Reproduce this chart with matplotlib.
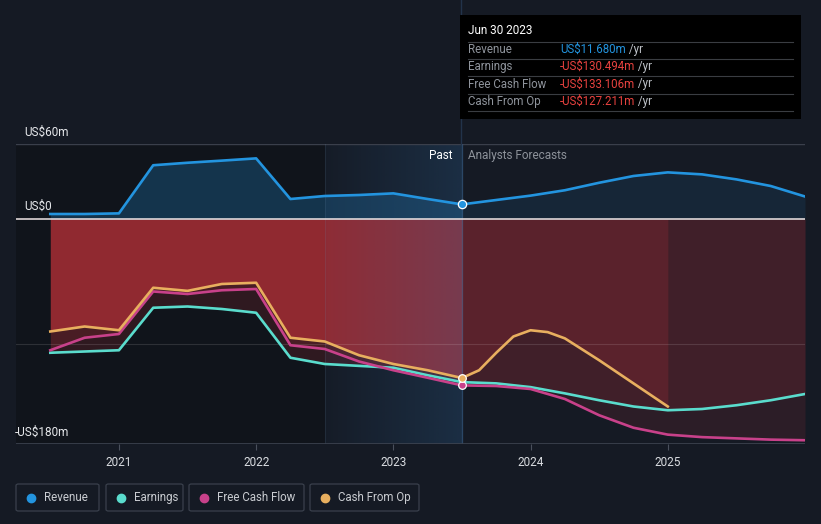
import numpy as np
import matplotlib.pyplot as plt
from matplotlib.patches import FancyBboxPatch
from matplotlib.lines import Line2D

plt.rcParams['font.family'] = ['Roboto', 'DejaVu Sans']

# ---- data (US$ m, decimal years) ----
past_x = [2020.5, 2020.75, 2021.0, 2021.25, 2021.5, 2021.75, 2022.0, 2022.25,
          2022.5, 2022.75, 2023.0, 2023.25, 2023.5]
revenue_past = [4, 4, 4.5, 43, 45, 46.7, 48.5, 16, 18.4, 19.2, 20.5, 16, 11.68]
earnings_past = [-107, -106, -105, -71, -70, -72, -75, -111, -116, -117.5, -119, -125, -130.494]
fcf_past = [-105, -95, -92, -58, -60, -57, -56, -101, -104, -114, -121, -127, -133.106]
cfo_past = [-90, -86, -89, -55, -57.5, -52, -51, -95, -98, -109, -116, -121, -127.211]

fc_x = [2023.5, 2023.75, 2024.0, 2024.25, 2024.5, 2024.75, 2025.0, 2025.25,
        2025.5, 2025.75, 2026.0]
revenue_fc = [11.68, 15.2, 18.7, 23, 29, 34.4, 37.3, 35.7, 31.7, 26.4, 18]
earnings_fc = [-130.494, -131.5, -134.5, -139.5, -145, -150, -153, -152, -149, -145, -140]
fcf_fc = [-133.106, -133.6, -136, -144, -157, -167, -172.5, -174.5, -175.5, -176.5, -177]
cfo_fc_x = [2023.5, 2023.625, 2023.75, 2023.875, 2024.0, 2024.125, 2024.25, 2024.5,
            2024.75, 2025.0]
cfo_fc = [-127.211, -121, -107, -94, -89, -90.5, -95.5, -113, -131.5, -150]

year_ticks = [2021, 2022, 2023, 2024, 2025]
series_names = ["Revenue", "Earnings", "Free Cash Flow", "Cash From Op"]
tooltip_values = ["US$11.680m", "-US$130.494m", "-US$133.106m", "-US$127.211m"]

# ---- style ----
BG = '#151a24'
BG_DARK = '#10141b'
C_REV = '#2394df'
C_EARN = '#5adccd'
C_FCF = '#c8418a'
C_CFO = '#e8af5f'
RED = '#cd343c'
W, H = 821, 524

fig = plt.figure(figsize=(W / 100, H / 100), dpi=100, facecolor=BG)
ax = fig.add_axes([16 / W, 1 - 444 / H, 789 / W, 300 / H])
ax.set_facecolor(BG)
for s in ax.spines.values():
    s.set_visible(False)

x0, x1 = 2020.25, 2026.0
y0, y1 = -180, 60

# background zones
ax.axvspan(x0, 2022.5, color=BG_DARK, zorder=0, lw=0)

# revenue fills
ax.fill_between(past_x, 0, revenue_past, color=C_REV, alpha=0.25, lw=0, zorder=1)
ax.fill_between(fc_x, 0, revenue_fc, color=C_REV, alpha=0.1, lw=0, zorder=1)

# negative fills (layered)
ax.fill_between(past_x, 0, cfo_past, color=RED, alpha=0.54, lw=0, zorder=1)
ax.fill_between(past_x, 0, fcf_past, color=RED, alpha=0.17, lw=0, zorder=1)
ax.fill_between(past_x, 0, earnings_past, color=RED, alpha=0.17, lw=0, zorder=1)
ax.fill_between(cfo_fc_x, 0, cfo_fc, color=RED, alpha=0.19, lw=0, zorder=1)
ax.fill_between(fc_x, 0, fcf_fc, color=RED, alpha=0.13, lw=0, zorder=1)
ax.fill_between(fc_x, 0, earnings_fc, color=RED, alpha=0.13, lw=0, zorder=1)

# past-year highlight gradient
grad = np.zeros((2, 256, 4))
grad[..., 0] = 45 / 255
grad[..., 1] = 105 / 255
grad[..., 2] = 160 / 255
grad[..., 3] = np.linspace(0.03, 0.26, 256)[None, :]
ax.imshow(grad, extent=[2022.5, 2023.5, y0, y1], aspect='auto', zorder=2,
          interpolation='bilinear')

# grid lines
ax.axhline(60, color='#3a3f4b', lw=1, zorder=2.5)
ax.axhline(-100, color='#ffffff', alpha=0.12, lw=0.8, zorder=2.5)
ax.axhline(0, color='#f0e6e6', lw=1.1, zorder=2.6)
ax.axvline(2022.5, color='#6a8aa8', alpha=0.15, lw=0.8, zorder=2.5)
ax.axvline(2023.5, color='#4a78a8', alpha=0.35, lw=1, zorder=2.5)
ax.axhline(y0, color='#3d4350', lw=1.2, zorder=2.6)

# lines
lw = 1.9
ax.plot(past_x + fc_x[1:], revenue_past + revenue_fc[1:], color=C_REV, lw=lw, zorder=3,
        solid_joinstyle='round')
ax.plot(past_x + fc_x[1:], earnings_past + earnings_fc[1:], color=C_EARN, lw=lw, zorder=3,
        solid_joinstyle='round')
ax.plot(past_x + fc_x[1:], fcf_past + fcf_fc[1:], color=C_FCF, lw=lw, zorder=3,
        solid_joinstyle='round')
ax.plot(past_x + cfo_fc_x[1:], cfo_past + cfo_fc[1:], color=C_CFO, lw=lw, zorder=3,
        solid_joinstyle='round')

# markers at the tooltip date
ax.plot([2023.5], [revenue_past[-1]], 'o', color=C_REV, mec='white', mew=0.9, ms=6, zorder=5)
ax.plot([2023.5], [fcf_past[-1]], 'o', color=C_FCF, mec='white', mew=0.9, ms=5.5, zorder=5)
ax.plot([2023.5], [cfo_past[-1]], 'o', color=C_CFO, mec='white', mew=0.9, ms=5.5, zorder=5)

ax.set_xlim(x0, x1)
ax.set_ylim(y0, y1)
ax.set_yticks([])
ax.set_xticks(year_ticks)
ax.set_xticklabels([str(y) for y in year_ticks], color='#d9dce0', fontsize=8.5)
ax.tick_params(axis='x', length=4, width=0.8, color='#4a505c', pad=5)

fx = lambda px: px / W
fy = lambda py: 1 - py / H

# vertical line above the plot, up to the top of the figure
fig.add_artist(Line2D([fx(460.5), fx(460.5)], [fy(0), fy(144)], color='#22334a', lw=1))

# y labels
fig.text(fx(24), fy(132), "US$60m", color='#e6e8eb', fontsize=8.5, va='center', ha='left')
fig.text(fx(24), fy(206), "US$0", color='#e6e8eb', fontsize=8.5, va='center', ha='left')
fig.text(fx(15), fy(432), "-US$180m", color='#e6e8eb', fontsize=8.5, va='center', ha='left')

# past / forecast labels
fig.text(fx(452), fy(156), "Past", color='#ffffff', fontsize=8.5, va='center', ha='right')
fig.text(fx(468), fy(156), "Analysts Forecasts", color='#8d929a', fontsize=8.5,
         va='center', ha='left')

# tooltip as its own axes (pixel coordinates)
tax = fig.add_axes([fx(460), fy(119), (801 - 460) / W, (119 - 15) / H], zorder=5)
tax.set_facecolor('#000000')
tax.set_xlim(460, 801)
tax.set_ylim(119, 15)
tax.set_xticks([])
tax.set_yticks([])
for s in tax.spines.values():
    s.set_visible(False)
tax.text(468, 31, "Jun 30 2023", color='#ffffff', fontsize=8.5, va='center')
for ly in [41.5, 58.5, 76, 93.5, 111]:
    tax.plot([468, 793], [ly, ly], color='#3a3d42', lw=0.8)
row_y = [49.5, 66.5, 84, 101.5]
val_colors = [C_REV, '#e8423f', '#e8423f', '#e8423f']
for name, val, col, ry in zip(series_names, tooltip_values, val_colors, row_y):
    tax.text(468, ry, name, color='#8f949c', fontsize=8.3, va='center')
    t = tax.text(560, ry, val, color=col, fontsize=8.3, va='center')
    tax.annotate(" /yr", xy=(1, 0.5), xycoords=t, va='center', ha='left',
                 color='#c0c4ca', fontsize=8.3)

# legend boxes
legend_boxes = [(16, 99), (106, 183), (189, 304), (310, 419)]
legend_colors = [C_REV, C_EARN, C_FCF, C_CFO]
for (bx0, bx1), name, col in zip(legend_boxes, series_names, legend_colors):
    fig.add_artist(FancyBboxPatch((fx(bx0), fy(511)), (bx1 - bx0) / W, 27 / H,
                                  boxstyle='round,pad=0,rounding_size=0.003',
                                  transform=fig.transFigure, facecolor=BG,
                                  edgecolor='#3a404c', lw=0.9))
    fig.add_artist(Line2D([fx(bx0 + 15)], [fy(497.5)], marker='o', color=col, ms=6,
                          mec=col, lw=0))
    fig.text(fx(bx0 + 28), fy(497.5), name, color='#c9ccd1', fontsize=8.3, va='center')

fig.savefig("out.png", dpi=100, facecolor=BG)
